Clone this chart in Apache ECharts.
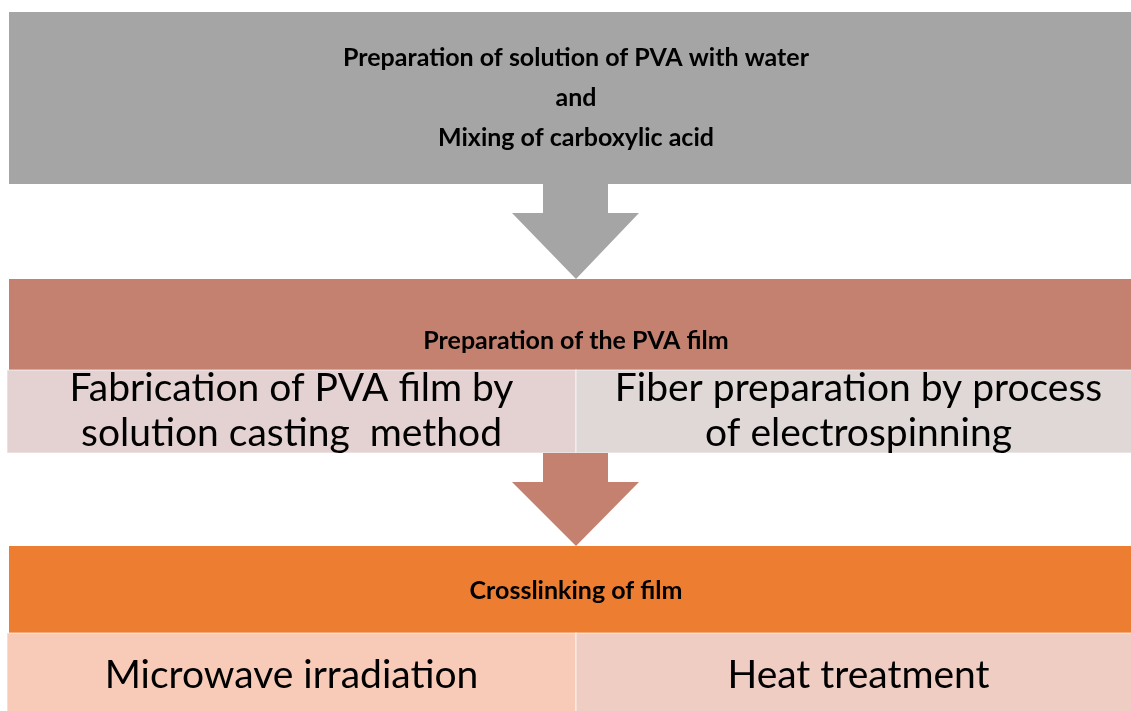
<!DOCTYPE html>
<html>
<head>
<meta charset="utf-8">
<script src="https://cdn.jsdelivr.net/npm/echarts@6/dist/echarts.min.js"></script>
<style>
  html, body { margin: 0; padding: 0; background: #fff; }
  #main { width: 1131px; height: 711px; }
</style>
</head>
<body>
<div id="main"></div>
<script>
// flow chart data
const stageTitles = [
  "Preparation of solution of PVA with water\nand\nMixing of carboxylic acid",
  "Preparation of the PVA film",
  "Crosslinking of film"
];
const stageSteps = [
  [],
  ["Fabrication of PVA film by\nsolution casting  method", "Fiber preparation by process\nof electrospinning"],
  ["Microwave irradiation", "Heat treatment"]
];

// look of each stage (kept apart from the data)
const headerColors = ["#a5a5a5", "#c48170", "#ed7d31"];
const stepColors = [[], ["#e4d1d1", "#dfd8d7"], ["#f7cbb8", "#f0cdc2"]];

// layout in page pixels, read through the hidden axes
const headerBand = [[12, 184], [279, 370], [546, 633]];
const stepBand = [null, [370, 453], [633, 720]];
const titleY = [98, 341, 591];
const stepTextY = [null, 411, 675];
const leftX = 9, rightX = 1141, splitX = 576;

const chart = echarts.init(document.getElementById("main"));

function rect(api, x0, y0, x1, y1, fill, stroke) {
  const a = api.coord([x0, y0]);
  const b = api.coord([x1, y1]);
  return {
    type: "rect",
    shape: { x: a[0], y: a[1], width: b[0] - a[0], height: b[1] - a[1] },
    style: { fill: fill, stroke: stroke || null, lineWidth: stroke ? 1.5 : 0 }
  };
}

function renderStage(params, api) {
  const i = api.value(0);
  const children = [];
  const hb = headerBand[i];
  children.push(rect(api, leftX, hb[0], rightX, hb[1], headerColors[i]));
  const tp = api.coord([splitX, titleY[i]]);
  children.push({
    type: "text",
    style: {
      text: stageTitles[i], x: tp[0], y: tp[1],
      align: "center", verticalAlign: "middle",
      font: "bold 25px Lato, sans-serif", lineHeight: 40, fill: "#000"
    }
  });
  const steps = stageSteps[i];
  if (steps.length) {
    const sb = stepBand[i];
    const cols = [[leftX - 2, splitX], [splitX, rightX]];
    steps.forEach(function (s, k) {
      children.push(rect(api, cols[k][0], sb[0], cols[k][1], sb[1], stepColors[i][k], "rgba(255,255,255,0.45)"));
      const p = api.coord([(cols[k][0] + cols[k][1]) / 2, stepTextY[i]]);
      children.push({
        type: "text",
        style: {
          text: s, x: p[0], y: p[1],
          align: "center", verticalAlign: "middle",
          font: "39px Lato, sans-serif", lineHeight: 45, fill: "#000"
        }
      });
    });
  }
  // arrow down to the next stage
  if (i < stageTitles.length - 1) {
    const from = steps.length ? stepBand[i][1] : hb[1];
    const to = headerBand[i + 1][0];
    const neck = from + 29;
    const pts = [
      [543, from], [608, from], [608, neck], [639, neck],
      [splitX, to], [512, neck], [543, neck]
    ].map(function (q) { return api.coord(q); });
    children.push({
      type: "polygon",
      shape: { points: pts },
      style: { fill: headerColors[i] }
    });
  }
  return { type: "group", children: children };
}

chart.setOption({
  animation: false,
  grid: { left: 0, right: 0, top: 0, bottom: 0 },
  xAxis: { type: "value", min: 0, max: 1131, show: false },
  yAxis: { type: "value", min: 0, max: 711, inverse: true, show: false },
  series: [{
    type: "custom",
    renderItem: renderStage,
    clip: false,
    data: stageTitles.map(function (t, i) { return [i]; })
  }]
});
</script>
</body>
</html>
